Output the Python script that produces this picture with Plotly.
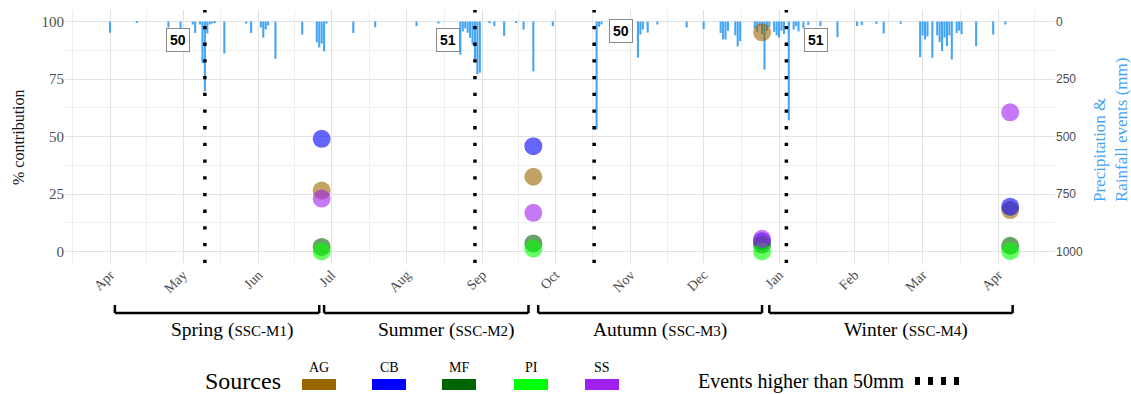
import plotly.graph_objects as go
import pandas as pd

# ---------------- data ----------------
precip_dates = [
    "2018-04-01", "2018-04-12", "2018-04-25", "2018-04-30", "2018-05-05", "2018-05-06",
    "2018-05-08", "2018-05-09", "2018-05-10", "2018-05-11", "2018-05-12", "2018-05-13",
    "2018-05-14", "2018-05-18", "2018-05-27", "2018-05-29", "2018-06-02", "2018-06-03",
    "2018-06-04", "2018-06-05", "2018-06-08", "2018-06-19", "2018-06-25", "2018-06-26",
    "2018-06-27", "2018-06-28", "2018-06-29", "2018-07-10", "2018-07-19", "2018-08-05",
    "2018-08-14", "2018-08-23", "2018-08-24", "2018-08-25", "2018-08-26", "2018-08-27",
    "2018-08-28", "2018-08-29", "2018-08-30", "2018-08-31", "2018-09-04", "2018-09-06",
    "2018-09-10", "2018-09-15", "2018-09-18", "2018-09-22", "2018-09-30", "2018-10-18",
    "2018-10-19", "2018-10-20", "2018-11-04", "2018-11-05", "2018-11-06", "2018-11-08",
    "2018-11-12", "2018-11-24", "2018-12-01", "2018-12-08", "2018-12-09", "2018-12-10",
    "2018-12-11", "2018-12-14", "2018-12-15", "2018-12-16", "2018-12-22", "2018-12-23",
    "2018-12-24", "2018-12-25", "2018-12-26", "2018-12-27", "2018-12-28", "2018-12-30",
    "2018-12-31", "2019-01-01", "2019-01-02", "2019-01-03", "2019-01-05", "2019-01-07",
    "2019-01-08", "2019-01-09", "2019-01-11", "2019-01-13", "2019-01-18", "2019-01-25",
    "2019-02-02", "2019-02-04", "2019-02-10", "2019-02-13", "2019-02-20", "2019-02-28",
    "2019-03-01", "2019-03-02", "2019-03-03", "2019-03-05", "2019-03-07", "2019-03-08",
    "2019-03-09", "2019-03-10", "2019-03-11", "2019-03-12", "2019-03-13", "2019-03-15",
    "2019-03-16", "2019-03-17", "2019-03-23", "2019-03-30", "2019-04-04",
]
precip_mm = [
    49, 4, 26, 35, 13, 50,
    13, 180, 304, 52, 13, 9,
    6, 139, 9, 50, 26, 70,
    35, 17, 162, 57, 91, 113,
    96, 130, 9, 50, 25, 20,
    9, 144, 43, 30, 49, 71,
    100, 172, 230, 223, 6, 20,
    62, 6, 35, 217, 20, 470,
    23, 13, 157, 57, 35, 48,
    13, 26, 33, 50, 78, 78,
    40, 60, 108, 85, 30, 45,
    20, 55, 209, 40, 25, 45,
    60, 70, 40, 55, 430, 35,
    20, 43, 30, 15, 20, 68,
    20, 15, 10, 52, 10, 155,
    60, 78, 65, 158, 60, 90,
    129, 70, 107, 60, 165, 50,
    40, 55, 107, 57, 13,
]

sample_dates = ["2018-06-27", "2018-09-22", "2018-12-25", "2019-04-06"]
source_names = ["AG", "CB", "MF", "PI", "SS"]
AG = [26.5, 32.5, 95.3, 18.0]
CB = [49.0, 45.8, 4.5, 19.5]
MF = [2.0, 3.5, 3.0, 2.5]
PI = [0.0, 1.2, 0.0, 0.2]
SS = [23.0, 16.8, 5.5, 60.5]
source_values = [AG, CB, MF, PI, SS]
source_colors = ["#996600", "#0000FF", "#006400", "#00FF00", "#A020F0"]

event_dates = ["2018-05-10", "2018-08-29", "2018-10-17", "2019-01-04"]
event_labels = ["50", "51", "50", "51"]
event_label_dates = ["2018-04-29", "2018-08-18", "2018-10-28", "2019-01-16"]
event_label_y = [92, 92, 96, 92]

month_ticks = ["2018-04-01", "2018-05-01", "2018-06-01", "2018-07-01", "2018-08-01",
               "2018-09-01", "2018-10-01", "2018-11-01", "2018-12-01", "2019-01-01",
               "2019-02-01", "2019-03-01", "2019-04-01"]
month_labels = ["Apr", "May", "Jun", "Jul", "Aug", "Sep", "Oct", "Nov", "Dec",
                "Jan", "Feb", "Mar", "Apr"]

pct_ticks = [0, 25, 50, 75, 100]
mm_ticks = [0, 250, 500, 750, 1000]

season_names = ["Spring", "Summer", "Autumn", "Winter"]
season_codes = ["SSC-M1", "SSC-M2", "SSC-M3", "SSC-M4"]
season_start = ["2018-04-03", "2018-06-28", "2018-09-24", "2018-12-28"]
season_end = ["2018-06-26", "2018-09-20", "2018-12-25", "2019-04-07"]
season_label_dates = ["2018-05-21", "2018-08-17", "2018-11-13", "2019-02-22"]

# ---------------- layout helpers ----------------
W, H = 1131, 394
ML, MR, MT, MB = 65, 76, 10, 131
SERIF = "Liberation Serif, Times New Roman, serif"
SANS = "Liberation Sans, Arial, sans-serif"
BAR_BLUE = "#42A5F5"


def pxx(p):
    return (p - ML) / (W - ML - MR)


def pxy(p):
    return (H - MB - p) / (H - MT - MB)


# minor x gridlines at mid-months
ext = pd.date_range("2018-03-01", "2019-05-01", freq="MS")
minor_x = [(ext[i] + (ext[i + 1] - ext[i]) / 2).strftime("%Y-%m-%d %H:%M") for i in range(len(ext) - 1)]

fig = go.Figure()

# precipitation bars on base axis (mm, reversed)
fig.add_trace(go.Bar(
    x=precip_dates, y=precip_mm, width=0.85 * 86400000,
    marker=dict(color=BAR_BLUE, line=dict(width=0)),
    xaxis="x", yaxis="y", hoverinfo="x+y",
))

# event dotted lines
for d in event_dates:
    fig.add_trace(go.Scatter(
        x=[d, d], y=[-5, 105], mode="lines", xaxis="x", yaxis="y2",
        line=dict(color="black", width=3.5, dash="3.3px,13.4px"), hoverinfo="skip",
    ))

# source points
for name, vals, col in zip(source_names, source_values, source_colors):
    fig.add_trace(go.Scatter(
        x=sample_dates, y=vals, mode="markers", name=name, xaxis="x", yaxis="y2",
        marker=dict(size=18, color=col, opacity=0.6, line=dict(width=0)),
    ))

grid_major = "#E2E2E2"
grid_minor = "#EFEFEF"

fig.update_layout(
    width=W, height=H, margin=dict(l=ML, r=MR, t=MT, b=MB),
    plot_bgcolor="white", paper_bgcolor="white", showlegend=False,
    xaxis=dict(
        type="date", range=["2018-03-13 12:00", "2019-04-24 10:00"],
        tickvals=month_ticks, ticktext=month_labels, tickangle=-45,
        tickfont=dict(family=SERIF, size=14, color="#4D4D4D"),
        showgrid=True, gridcolor=grid_major, gridwidth=1,
        minor=dict(tickvals=minor_x, showgrid=True, gridcolor=grid_minor, gridwidth=1),
        zeroline=False, showline=False, ticks="",
    ),
    yaxis=dict(
        range=[1050, -50], side="right", tickvals=mm_ticks,
        tickfont=dict(family=SANS, size=12, color="#4D4D4D"),
        showgrid=True, gridcolor=grid_major, gridwidth=1,
        minor=dict(tickvals=[125, 375, 625, 875], showgrid=True, gridcolor=grid_minor, gridwidth=1),
        zeroline=False, showline=False, ticks="",
    ),
    yaxis2=dict(
        range=[-5, 105], overlaying="y", side="left", tickvals=pct_ticks,
        tickfont=dict(family=SERIF, size=15, color="#4D4D4D"),
        showgrid=False, zeroline=False, showline=False, ticks="",
    ),
)

annotations = []
shapes = []


def ann(**kw):
    base = dict(showarrow=False, xanchor="center", yanchor="middle")
    base.update(kw)
    annotations.append(base)


# event labels
for d, t, yv in zip(event_label_dates, event_labels, event_label_y):
    ann(x=d, y=yv, xref="x", yref="y2", text="<b>%s</b>" % t,
        font=dict(family=SANS, size=14, color="black"),
        bgcolor="white", bordercolor="#8A8A8A", borderwidth=1, borderpad=3)

# axis titles
ann(x=pxx(18), y=pxy(137), xref="paper", yref="paper", text="% contribution",
    textangle=-90, font=dict(family=SERIF, size=16, color="#1A1A1A"))
ann(x=pxx(1110), y=pxy(130), xref="paper", yref="paper",
    text="Precipitation &<br>Rainfall events (mm)", align="left",
    textangle=-90, font=dict(family=SERIF, size=17, color=BAR_BLUE))

# season brackets
y_bot = pxy(313)
y_top = pxy(305)
for s, e in zip(season_start, season_end):
    for (x0, x1, y0, y1) in [(s, e, y_bot, y_bot), (s, s, y_top, y_bot), (e, e, y_top, y_bot)]:
        shapes.append(dict(type="line", xref="x", yref="paper", x0=x0, x1=x1, y0=y0, y1=y1,
                           line=dict(color="black", width=2.5)))
for n, c, d in zip(season_names, season_codes, season_label_dates):
    ann(x=d, y=pxy(330), xref="x", yref="paper",
        text="%s (<span style='font-size:15px'>%s</span>)" % (n, c),
        font=dict(family=SERIF, size=19.5, color="black"))

# custom legend
ann(x=pxx(243), y=pxy(381), xref="paper", yref="paper", text="Sources",
    font=dict(family=SERIF, size=24, color="black"))
legend_x0 = [302, 372, 442, 514, 585]
for name, col, x0 in zip(source_names, source_colors, legend_x0):
    shapes.append(dict(type="rect", xref="paper", yref="paper",
                       x0=pxx(x0), x1=pxx(x0 + 34), y0=pxy(390), y1=pxy(379),
                       fillcolor=col, line=dict(width=0)))
    ann(x=pxx(x0 + 17), y=pxy(367), xref="paper", yref="paper", text=name,
        font=dict(family=SERIF, size=14, color="black"))
ann(x=pxx(801), y=pxy(381), xref="paper", yref="paper", text="Events higher than 50mm",
    font=dict(family=SERIF, size=20, color="black"))
shapes.append(dict(type="line", xref="paper", yref="paper", x0=pxx(915), x1=pxx(961),
                   y0=pxy(381), y1=pxy(381),
                   line=dict(color="black", width=8, dash="5px,8px")))

fig.update_layout(annotations=annotations, shapes=shapes)

fig.write_html("out.html", config={"displayModeBar": False},
               post_script="document.body.style.margin='0px';")
